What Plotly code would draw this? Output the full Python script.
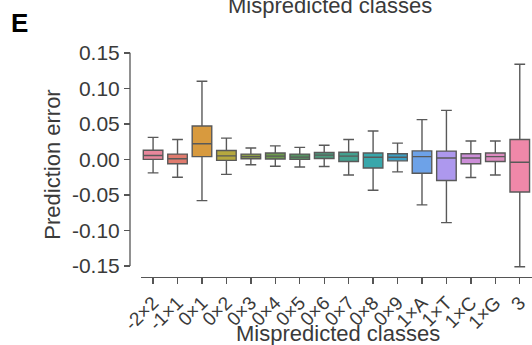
import plotly.graph_objects as go

categories = ["-2×2", "-1×1", "0×1", "0×2", "0×3", "0×4", "0×5", "0×6",
              "0×7", "0×8", "0×9", "1×A", "1×T", "1×C", "1×G", "3"]
upper_whisker = [0.031, 0.028, 0.110, 0.030, 0.016, 0.019, 0.017, 0.020,
                 0.028, 0.040, 0.023, 0.056, 0.069, 0.026, 0.026, 0.134]
q3_values = [0.013, 0.0075, 0.047, 0.0125, 0.0075, 0.009, 0.0075, 0.0097,
             0.010, 0.009, 0.008, 0.012, 0.0117, 0.008, 0.009, 0.028]
median_values = [0.0056, 0.001, 0.022, 0.005, 0.004, 0.0047, 0.0033, 0.006,
                 0.0047, 0.003, 0.003, 0.004, 0.002, 0.002, 0.004, -0.004]
q1_values = [0.0, -0.006, 0.004, -0.0014, 0.001, 0.0005, 0.0, 0.0014,
             -0.003, -0.012, -0.002, -0.0194, -0.0296, -0.006, -0.003, -0.0458]
lower_whisker = [-0.019, -0.025, -0.058, -0.021, -0.0075, -0.0097, -0.0106, -0.010,
                 -0.022, -0.0435, -0.0175, -0.064, -0.089, -0.0254, -0.022, -0.151]
colors = ["#e8879c", "#e07b6e", "#d89a3e", "#b5a83f", "#8d9e4a", "#6d9a4e",
          "#579463", "#4d9a7c", "#43a08f", "#38a7ab", "#3b9fc4", "#6da2e8",
          "#ad98ee", "#cc8ed8", "#dc8cc0", "#ef88a9"]
y_ticks = [-0.15, -0.10, -0.05, 0.00, 0.05, 0.10, 0.15]
y_tick_labels = ["-0.15", "-0.10", "-0.05", "0.00", "0.05", "0.10", "0.15"]

font_family = "Liberation Sans, Arial, sans-serif"
axis_color = "#555555"
text_color = "#3a3a3a"

fig = go.Figure()
for i, cat in enumerate(categories):
    fig.add_trace(go.Box(
        x=[cat],
        q1=[q1_values[i]], median=[median_values[i]], q3=[q3_values[i]],
        lowerfence=[lower_whisker[i]], upperfence=[upper_whisker[i]],
        fillcolor=colors[i],
        line=dict(color="#595959", width=1.4),
        whiskerwidth=0.55,
        width=0.8,
        boxpoints=False,
        showlegend=False,
        hoverinfo="skip",
    ))

fig.update_layout(
    width=532, height=345,
    margin=dict(l=130, r=0, t=52, b=68),
    paper_bgcolor="white", plot_bgcolor="white",
    boxmode="overlay",
    font=dict(family=font_family, size=20, color=text_color),
    xaxis=dict(
        domain=[0.027, 1],
        categoryorder="array", categoryarray=categories,
        range=[-0.5, 15.5],
        showline=True, linecolor=axis_color, linewidth=1.3,
        ticks="outside", tickcolor=axis_color, ticklen=6, tickwidth=1.3,
        tickangle=-45, tickfont=dict(size=19, color=text_color),
        showgrid=False, zeroline=False,
    ),
    yaxis=dict(
        anchor="free", position=0,
        range=[-0.1655, 0.1512],
        tickvals=y_ticks, ticktext=y_tick_labels,
        showline=False,
        ticks="outside", tickcolor=axis_color, ticklen=6, tickwidth=1.3,
        tickfont=dict(size=21, color=text_color),
        showgrid=False, zeroline=False,
        title=dict(text="Prediction error", font=dict(size=22, color=text_color), standoff=4),
    ),
    shapes=[dict(type="line", xref="paper", yref="y", x0=0, x1=0,
                 y0=y_ticks[0], y1=y_ticks[-1],
                 line=dict(color=axis_color, width=1.3))],
    annotations=[
        dict(text="<b>E</b>", xref="paper", yref="paper", x=-0.274, y=1.129,
             xanchor="center", yanchor="middle", showarrow=False,
             font=dict(size=26, color="black")),
        dict(text="Mispredicted classes", xref="paper", yref="paper", x=0.4975, y=1.205,
             xanchor="center", yanchor="middle", showarrow=False,
             font=dict(size=22, color=text_color)),
        dict(text="Mispredicted classes", xref="paper", yref="paper", x=0.517, y=-0.249,
             xanchor="center", yanchor="middle", showarrow=False,
             font=dict(size=22, color=text_color)),
    ],
)

fig.write_html("out.html",
               config={"displayModeBar": False, "staticPlot": True},
               post_script="document.body.style.margin='0';document.body.style.overflow='hidden';")
